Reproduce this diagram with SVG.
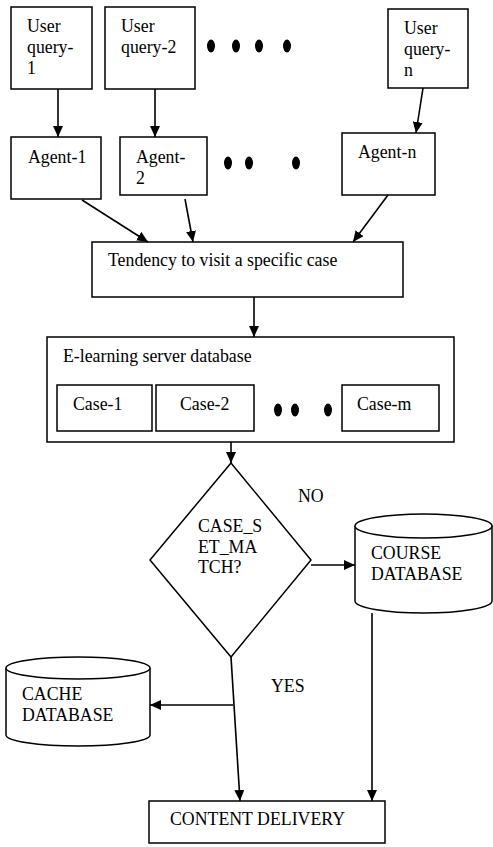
<svg xmlns="http://www.w3.org/2000/svg" width="493" height="847" viewBox="0 0 493 847">
<style>
.b{fill:#fff;stroke:#000;stroke-width:1.5}
.t{font-family:"Liberation Serif","Times New Roman",serif;font-size:17.8px;fill:#000}
.c{fill:none;stroke:#000;stroke-width:1.6}
.d{fill:#000}
</style>
<defs>
<marker id="ah" markerUnits="userSpaceOnUse" markerWidth="12" markerHeight="10" refX="11" refY="5" orient="auto">
<path d="M0,0 L11,5 L0,10 z" fill="#000"/>
</marker>
</defs>
<rect width="493" height="847" fill="#fff"/>
<g id="uq1"><rect class="b" x="11" y="7" width="81" height="82"/><text class="t" x="27" y="32">User</text><text class="t" x="27" y="53">query-</text><text class="t" x="27" y="74">1</text></g>
<g id="uq2"><rect class="b" x="105" y="7" width="90" height="82"/><text class="t" x="121" y="32">User</text><text class="t" x="121" y="53">query-2</text></g>
<g id="uqn"><rect class="b" x="388" y="9" width="80" height="79"/><text class="t" x="404" y="34">User</text><text class="t" x="404" y="55">query-</text><text class="t" x="404" y="76">n</text></g>
<g id="a1"><rect class="b" x="11" y="137" width="90" height="62"/><text class="t" x="28" y="163">Agent-1</text></g>
<g id="a2"><rect class="b" x="120" y="137" width="87" height="58"/><text class="t" x="136" y="163">Agent-</text><text class="t" x="136" y="184">2</text></g>
<g id="an"><rect class="b" x="342" y="133" width="93" height="62"/><text class="t" x="358" y="158">Agent-n</text></g>
<g id="tend"><rect class="b" x="92" y="242" width="311" height="55"/><text class="t" x="108" y="266">Tendency to visit a specific case</text></g>
<g id="els"><rect class="b" x="47" y="337" width="407" height="105"/><text class="t" x="63" y="362">E-learning server database</text>
<rect class="b" x="57" y="385" width="95" height="46"/><text class="t" x="73" y="410">Case-1</text>
<rect class="b" x="156" y="385" width="98" height="46"/><text class="t" x="180" y="410">Case-2</text>
<rect class="b" x="342" y="385" width="97" height="46"/><text class="t" x="357" y="410">Case-m</text>
</g>
<g id="dots">
<ellipse class="d" cx="211" cy="46" rx="4" ry="6.5"/><ellipse class="d" cx="236" cy="46" rx="4" ry="6.5"/><ellipse class="d" cx="259" cy="46" rx="4" ry="6.5"/><ellipse class="d" cx="287" cy="46" rx="4" ry="6.5"/>
<ellipse class="d" cx="228" cy="163" rx="4" ry="6.5"/><ellipse class="d" cx="249" cy="163" rx="4" ry="6.5"/><ellipse class="d" cx="296" cy="163" rx="4" ry="6.5"/>
<ellipse class="d" cx="278" cy="410" rx="4" ry="6.5"/><ellipse class="d" cx="295" cy="410" rx="4" ry="6.5"/><ellipse class="d" cx="328" cy="410" rx="4" ry="6.5"/>
</g>
<g id="dec"><path class="b" d="M231,463 L311,560 L231,657 L150,560 Z"/><text class="t" x="198" y="532">CASE_S</text><text class="t" x="198" y="553">ET_MA</text><text class="t" x="198" y="573">TCH?</text></g>
<g id="course"><path class="b" d="M355,526 L355,601 A68.5,12 0 0 0 492,601 L492,526"/><ellipse class="b" cx="423.5" cy="526" rx="68.5" ry="12"/><text class="t" x="371" y="559">COURSE</text><text class="t" x="371" y="580">DATABASE</text></g>
<g id="cache"><path class="b" d="M6,668 L6,735 A72,11 0 0 0 150,735 L150,668"/><ellipse class="b" cx="78" cy="668" rx="72" ry="11"/><text class="t" x="22" y="700">CACHE</text><text class="t" x="22" y="721">DATABASE</text></g>
<g id="cd"><rect class="b" x="149" y="801" width="236" height="42"/><text class="t" x="170" y="825">CONTENT DELIVERY</text></g>
<g id="labels"><text class="t" x="298" y="502">NO</text><text class="t" x="271" y="692">YES</text></g>
<g id="connectors">
<line class="c" x1="58" y1="89" x2="58" y2="137" marker-end="url(#ah)"/>
<line class="c" x1="155" y1="89" x2="155" y2="137" marker-end="url(#ah)"/>
<line class="c" x1="423" y1="88" x2="416" y2="133" marker-end="url(#ah)"/>
<line class="c" x1="82" y1="200" x2="148" y2="242" marker-end="url(#ah)"/>
<line class="c" x1="185" y1="199" x2="193" y2="242" marker-end="url(#ah)"/>
<line class="c" x1="388" y1="195" x2="353" y2="242" marker-end="url(#ah)"/>
<line class="c" x1="254" y1="297" x2="254" y2="337" marker-end="url(#ah)"/>
<line class="c" x1="231" y1="442" x2="231" y2="463" marker-end="url(#ah)"/>
<line class="c" x1="311" y1="565" x2="355" y2="565" marker-end="url(#ah)"/>
<line class="c" x1="372" y1="613" x2="372" y2="801" marker-end="url(#ah)"/>
<line class="c" x1="231" y1="657" x2="240" y2="801" marker-end="url(#ah)"/>
<line class="c" x1="233" y1="705" x2="150" y2="705" marker-end="url(#ah)"/>
</g>
</svg>
